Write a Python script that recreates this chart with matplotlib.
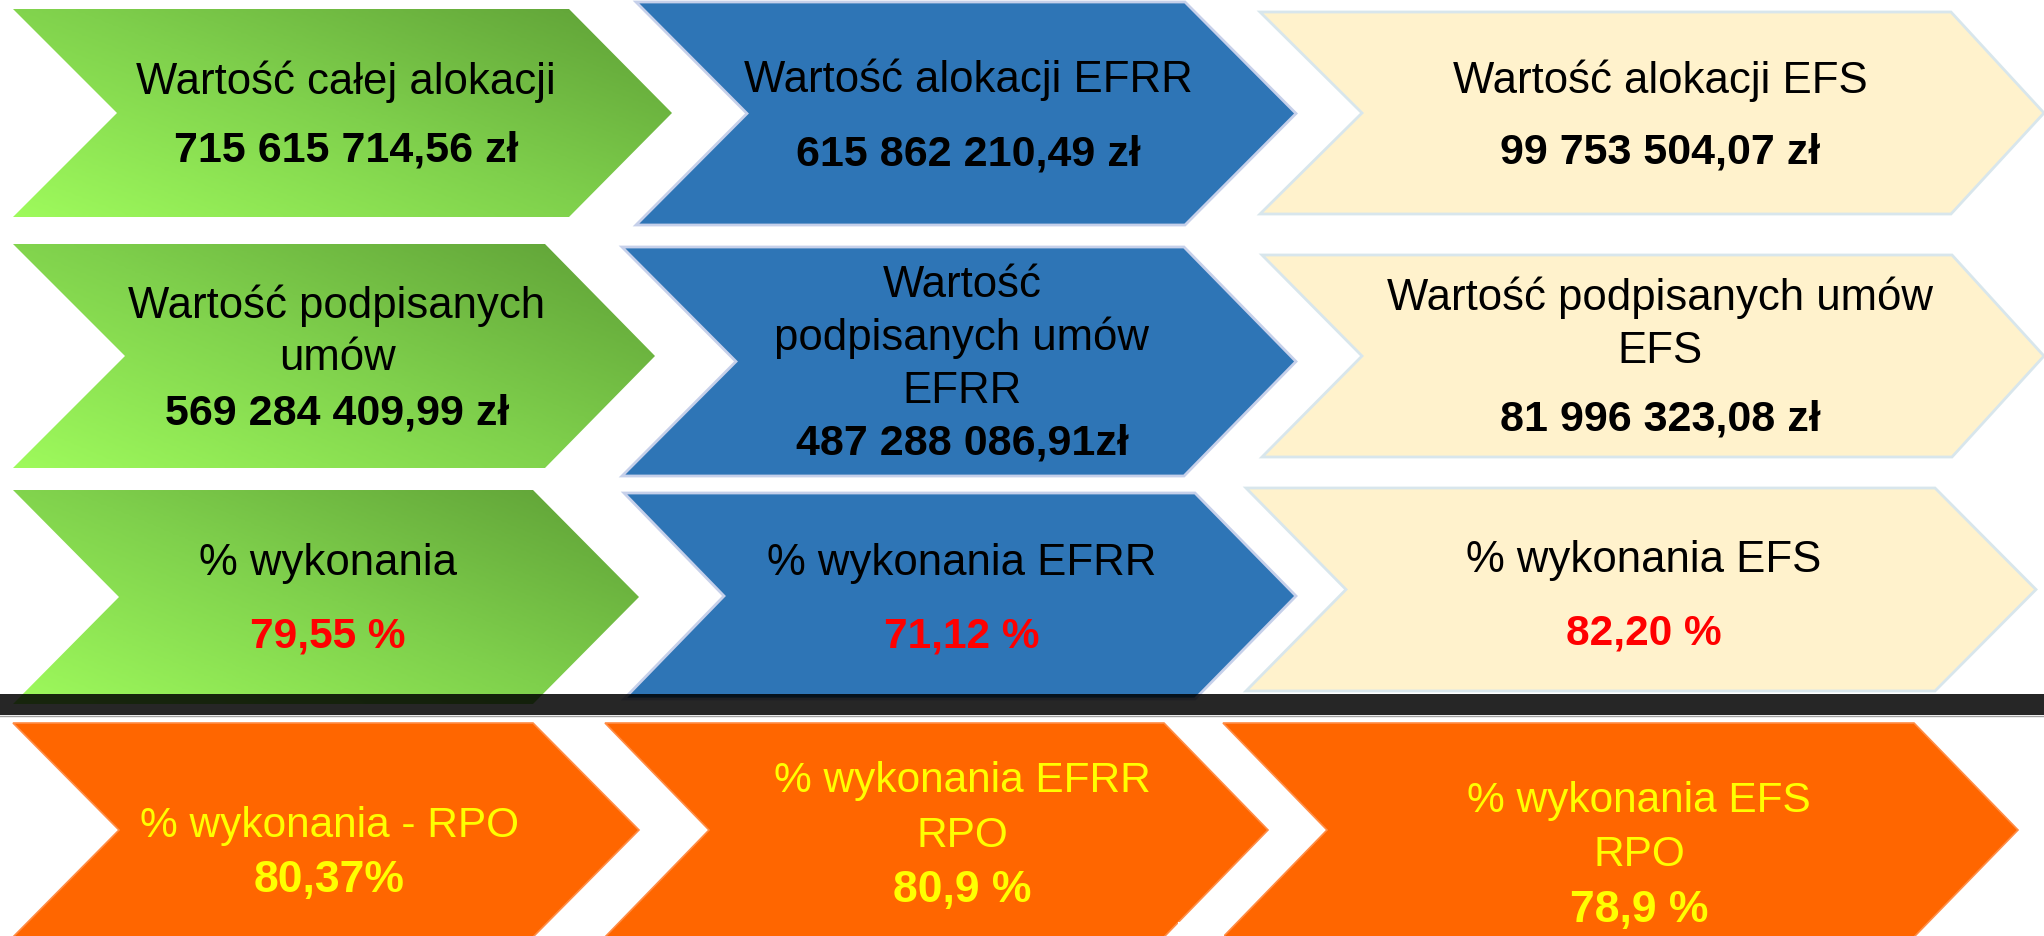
import numpy as np
import matplotlib.pyplot as plt
from matplotlib.patches import Polygon, Rectangle
from matplotlib.colors import LinearSegmentedColormap
from matplotlib import font_manager

# ---- data ----
alloc_labels = ["Wartość całej alokacji", "Wartość alokacji EFRR", "Wartość alokacji EFS"]
alloc_values = ["715 615 714,56 zł", "615 862 210,49 zł", "99 753 504,07 zł"]
signed_labels = ["Wartość podpisanych\numów", "Wartość\npodpisanych umów\nEFRR",
                 "Wartość podpisanych umów\nEFS"]
signed_values = ["569 284 409,99 zł", "487 288 086,91zł", "81 996 323,08 zł"]
exec_labels = ["% wykonania", "% wykonania EFRR", "% wykonania EFS"]
exec_values = ["79,55 %", "71,12 %", "82,20 %"]
rpo_labels = ["% wykonania - RPO", "% wykonania EFRR\nRPO", "% wykonania EFS\nRPO"]
rpo_values = ["80,37%", "80,9 %", "78,9 %"]

rows = [(alloc_labels, alloc_values), (signed_labels, signed_values),
        (exec_labels, exec_values), (rpo_labels, rpo_values)]

# ---- layout, pixels with y going down ----
# chevron: left, notch, right top corner, tip, top, bottom
geom = [
    [(13, 117, 569, 672, 10, 218), (636, 747, 1185, 1296, 3, 226), (1260, 1362, 1951, 2044, 13, 215)],
    [(13, 125, 545, 655, 245, 469), (622, 736, 1184, 1296, 248, 477), (1262, 1362, 1952, 2044, 256, 458)],
    [(13, 119, 533, 639, 491, 705), (624, 724, 1195, 1296, 494, 700), (1246, 1346, 1935, 2036, 489, 692)],
    [(13, 119, 533, 639, 724, 938), (605, 709, 1164, 1268, 724, 938), (1223, 1327, 1914, 2018, 724, 938)],
]
text_x = [[346, 968, 1660], [337, 962, 1660], [328, 962, 1644], [329, 962, 1639]]
baselines = [
    [[94, 162], [92, 165], [93, 163]],
    [[318, 370, 425], [297, 350, 403, 455], [310, 363, 431]],
    [[575, 648], [575, 648], [572, 645]],
    [[837, 892], [792, 847, 902], [812, 866, 922]],
]
label_fs = [31.5, 31.5, 31.5, 30.5]
value_fs = [31, 31, 30.5, 32]

fill = ["green", "#2E75B6", "#FFF2CC"]
edge = [None, "#C6D0EA", "#D8E6EC"]
orange = "#FF6600"
label_col = ["black", "black", "black", "#FFFF00"]
value_col = ["black", "black", "#FF0000", "#FFFF00"]

fam = "Liberation Sans"
try:
    font_manager.findfont(font_manager.FontProperties(family=fam), fallback_to_default=False)
except Exception:
    fam = "DejaVu Sans"
plt.rcParams["font.family"] = [fam, "DejaVu Sans"]

green_cmap = LinearSegmentedColormap.from_list("g", ["#5E9F36", "#7FD04C", "#9EFA5C"])

W, H = 2044, 937
fig = plt.figure(figsize=(W / 100, H / 100), dpi=100)
ax = fig.add_axes([0, 0, 1, 1])
ax.set_xlim(0, W)
ax.set_ylim(H, 0)
ax.axis("off")


def chevron_pts(g):
    xl, xn, xr, xt, yt, yb = g
    ym = (yt + yb) / 2
    return [(xl, yt), (xr, yt), (xt, ym), (xr, yb), (xl, yb), (xn, ym)]


for r, (labels, values) in enumerate(rows):
    for c in range(3):
        g = geom[r][c]
        pts = chevron_pts(g)
        if r == 3:
            ax.add_patch(Polygon(pts, closed=True, fc=orange, ec="#FF8C45", lw=1.2, zorder=1))
        elif c == 0:
            poly = Polygon(pts, closed=True, fc="none", ec="none", zorder=1)
            ax.add_patch(poly)
            xl, xn, xr, xt, yt, yb = g
            xx = np.linspace(0, 1, 200)
            yy = np.linspace(0, 1, 100)
            X, Y = np.meshgrid(xx, yy)
            img = 0.55 * (1 - X) + 0.45 * Y
            im = ax.imshow(img, cmap=green_cmap, extent=(xl, xt, yb, yt), origin="upper",
                           aspect="auto", zorder=1, vmin=0, vmax=1)
            im.set_clip_path(poly)
        else:
            ax.add_patch(Polygon(pts, closed=True, fc=fill[c], ec=edge[c], lw=2, zorder=1))

        lines = labels[c].split("\n")
        ys = baselines[r][c]
        for k, line in enumerate(lines):
            ax.text(text_x[r][c], ys[k], line, ha="center", va="baseline",
                    fontsize=label_fs[r], color=label_col[r], zorder=3)
        ax.text(text_x[r][c], ys[-1], values[c], ha="center", va="baseline",
                fontsize=value_fs[r], fontweight="bold", color=value_col[r], zorder=3)

# dark band across the slide
ax.add_patch(Rectangle((0, 695), W, 21, fc="black", alpha=0.85, lw=0, zorder=4))
ax.plot([0, W], [716.5, 716.5], color="#A0A0A0", lw=1, zorder=4)
# small white cut at the bottom of the middle orange arrow
ax.add_patch(Rectangle((1178, 923), 46, 15, fc="white", lw=0, zorder=2))

fig.savefig("out.png", dpi=100)
